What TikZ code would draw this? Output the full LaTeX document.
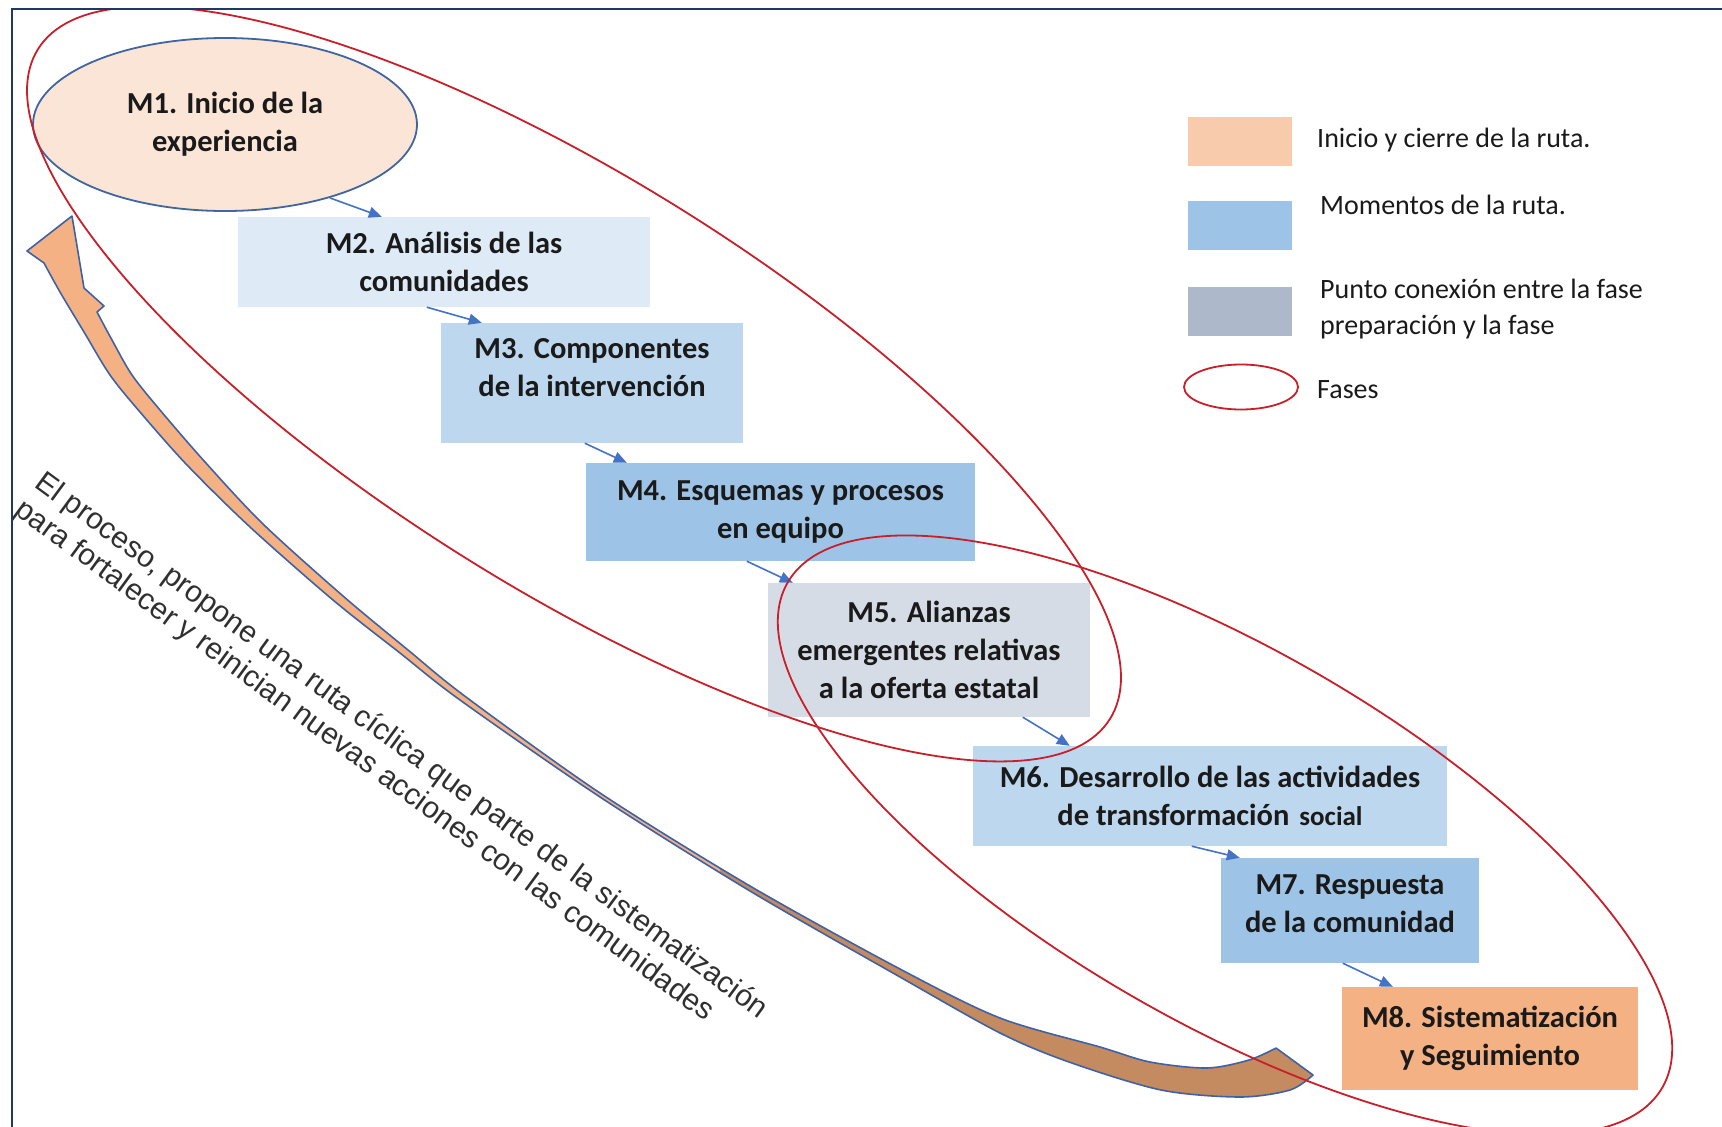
\documentclass[tikz,border=0pt]{standalone}
\usepackage{fontspec}
\setmainfont{Carlito}
\newfontfamily\arialfam{Liberation Sans}
\usetikzlibrary{arrows.meta,shapes.geometric}
\definecolor{fillmone}{HTML}{FBE5D6}
\definecolor{fillmtwo}{HTML}{DEEBF7}
\definecolor{fillmthree}{HTML}{BDD7EE}
\definecolor{fillmfour}{HTML}{9DC3E6}
\definecolor{fillmfive}{HTML}{D6DCE5}
\definecolor{fillmeight}{HTML}{F4B183}
\definecolor{legone}{HTML}{F8CBAD}
\definecolor{legtwo}{HTML}{9DC3E6}
\definecolor{legthree}{HTML}{ADB9CA}
\definecolor{phasered}{HTML}{C8202A}
\definecolor{connblue}{HTML}{4472C4}
\definecolor{moneborder}{HTML}{41659F}
\definecolor{framenavy}{HTML}{1F3864}
\definecolor{arroworange}{HTML}{F4B183}
\definecolor{arrowbrown}{HTML}{C48A60}
\definecolor{arrowline}{HTML}{3F62A6}
\definecolor{txtdark}{HTML}{1A1A1A}
\definecolor{notegray}{HTML}{303030}
\newcommand\cycarrowpath{(72,216) -- (27,251) -- (44,263)
  -- plot[smooth] coordinates {(44,263) (60,292) (84,332) (110,375) (140,412) (187,465) (250,527) (333,600) (400,653) (460,700) (600,797) (750,891) (900,977) (1000,1033) (1069,1062) (1161,1090) (1240,1097) (1290,1090) (1313,1075)}
  -- plot[smooth] coordinates {(1276,1048) (1249,1060) (1207,1068) (1150,1062) (1100,1047) (1000,1018) (900,969) (750,886) (600,793) (466,697) (408,650) (343,596) (263,524) (205,462) (160,410) (132,375) (112,340) (97,312)}
  -- (104,306) -- (84,288) -- cycle}
\begin{document}
\begin{tikzpicture}[x=1pt,y=-1pt,
  mbox/.style={rectangle, inner sep=0pt, align=center, text=txtdark,
    font=\bfseries\fontsize{30.5}{38}\selectfont},
  conn/.style={draw=connblue, line width=1.6pt, -{Triangle[length=13pt,width=11pt]}},
  phase/.style={draw=phasered, line width=1.8pt},
  legbox/.style={rectangle, inner sep=0pt, minimum width=104pt, minimum height=49pt},
  legtext/.style={anchor=west, inner sep=0pt, align=left, text=txtdark,
    font=\fontsize{28}{36}\selectfont},
  notetext/.style={inner sep=0pt, align=left, text=notegray,
    font=\arialfam\fontsize{30}{34}\selectfont}]
\useasboundingbox (0,0) rectangle (1722,1127);
\fill[white] (0,0) rectangle (1722,1127);
\begin{scope}
\clip (12,9) rectangle (1722,1127);
% moments
\node[mbox, ellipse, draw=moneborder, line width=1.8pt, fill=fillmone,
  minimum width=384pt, minimum height=173pt] (m1) at (225,124.5) {M1. Inicio de la\\experiencia};
\node[mbox, fill=fillmtwo, minimum width=412pt, minimum height=90pt] (m2) at (444,262) {M2. Análisis de las\\comunidades};
\node[mbox, fill=fillmthree, minimum width=302pt, minimum height=120pt] (m3) at (592,383) {M3. Componentes\\de la intervención\\[-6pt]\mbox{}};
\node[mbox, fill=fillmfour, minimum width=389pt, minimum height=98pt] (m4) at (780.5,512) {M4. Esquemas y procesos\\en equipo};
\node[mbox, fill=fillmfive, minimum width=322pt, minimum height=134pt] (m5) at (929,650) {M5. Alianzas\\emergentes relativas\\a la oferta estatal};
\node[mbox, fill=fillmthree, minimum width=474pt, minimum height=100pt] (m6) at (1210,796) {M6. Desarrollo de las actividades\\de transformación\hspace{10pt}{\fontsize{27}{38}\selectfont social}};
\node[mbox, fill=fillmfour, minimum width=258pt, minimum height=105pt] (m7) at (1350,910.5) {M7. Respuesta\\de la comunidad\\[-24pt]\mbox{}};
\node[mbox, fill=fillmeight, minimum width=296pt, minimum height=103pt] (m8) at (1490,1038.5) {M8. Sistematización\\y Seguimiento};
% connectors
\draw[conn] (m1.-35) -- ([xshift=144pt]m2.north west);
\draw[conn] ([xshift=189pt]m2.south west) -- ([xshift=41pt]m3.north west);
\draw[conn] ([xshift=144pt]m3.south west) -- ([xshift=41pt]m4.north west);
\draw[conn] ([xshift=161pt]m4.south west) -- ([xshift=25pt]m5.north west);
\draw[conn] ([xshift=255pt]m5.south west) -- ([xshift=97pt]m6.north west);
\draw[conn] ([xshift=219pt]m6.south west) -- ([xshift=19pt]m7.north west);
\draw[conn] ([xshift=122pt]m7.south west) -- ([xshift=51pt]m8.north west);
% cyclic arrow
\fill[arroworange] \cycarrowpath;
\begin{scope}
\clip (720,0) rectangle (1722,1127);
\fill[arrowbrown] \cycarrowpath;
\end{scope}
\draw[arrowline, line width=1.6pt, line join=round] \cycarrowpath;
% note
\node[notetext, rotate=-36.3] (note) at (391,760) {El proceso, propone una ruta cíclica que parte de la sistematización\\para fortalecer y reinician nuevas acciones con las comunidades};
% legend
\node[legbox, fill=legone] (lg1) at (1240,141.5) {};
\node[legbox, fill=legtwo] (lg2) at (1240,225.5) {};
\node[legbox, fill=legthree] (lg3) at (1240,311.5) {};
\node[ellipse, draw=phasered, line width=1.8pt, inner sep=0pt, minimum width=114pt, minimum height=45pt] (lg4) at (1241,387) {};
\node[legtext] (lt1) at (1317,140) {Inicio y cierre de la ruta.};
\node[legtext] (lt2) at (1320,205) {Momentos de la ruta.};
\node[legtext] (lt3) at (1320,309) {Punto conexión entre la fase\\preparación y la fase};
\node[legtext] (lt4) at (1317,390) {Fases};
% phases
\draw[phase, rotate around={-32:(574,384)}] (574,384) ellipse [x radius=632, y radius=205];
\draw[phase, rotate around={-30:(1225,835)}] (1225,835) ellipse [x radius=505, y radius=186];
\end{scope}
\draw[framenavy, line width=2.5pt] (12,1127) -- (12,9) -- (1722,9);
\end{tikzpicture}
\end{document}
